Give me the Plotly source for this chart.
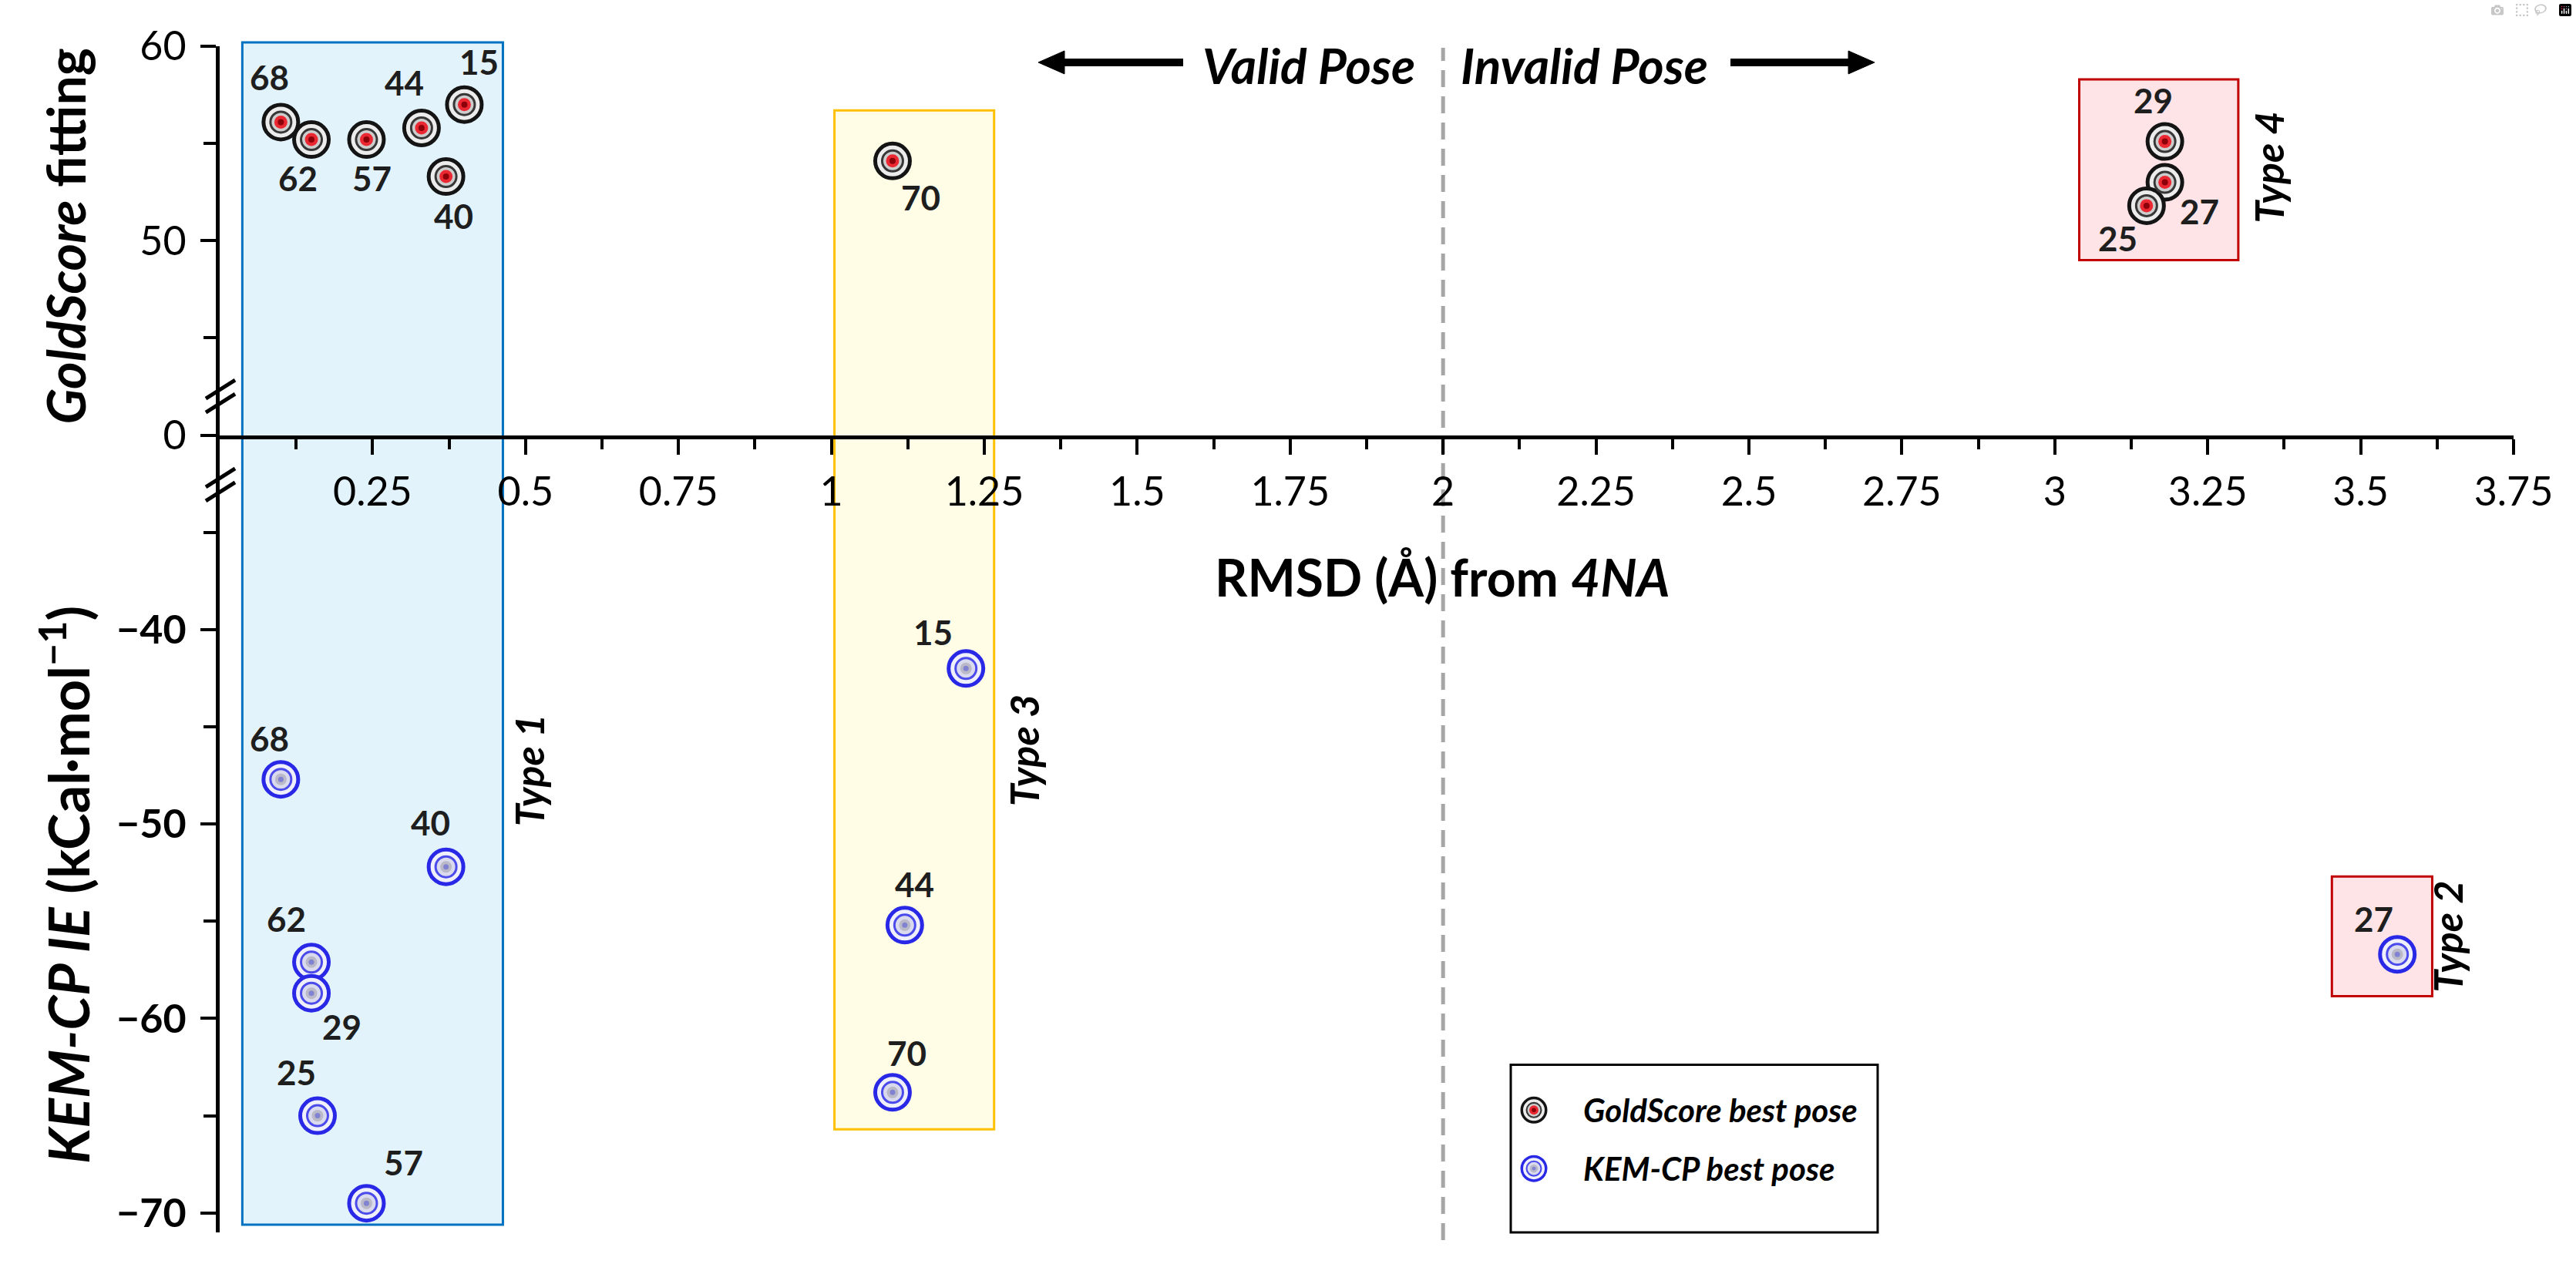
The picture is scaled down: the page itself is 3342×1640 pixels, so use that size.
import plotly.graph_objects as go

# ---------------- data ----------------
gold_ids = ["68", "62", "57", "44", "15", "40", "70", "29", "27", "25"]
gold_rmsd = [0.10, 0.15, 0.24, 0.33, 0.40, 0.37, 1.10, 3.18, 3.18, 3.15]
gold_fit = [56.1, 55.2, 55.2, 55.8, 57.0, 53.3, 54.1, 55.1, 53.0, 51.8]

kem_ids = ["68", "40", "62", "29", "25", "57", "15", "44", "70", "27"]
kem_rmsd = [0.10, 0.37, 0.15, 0.15, 0.16, 0.24, 1.22, 1.12, 1.10, 3.56]
kem_ie = [-47.7, -52.2, -57.1, -58.7, -65.0, -69.5, -42.0, -55.2, -63.8, -56.7]

x_tickvals = [0.25, 0.5, 0.75, 1.0, 1.25, 1.5, 1.75, 2.0, 2.25, 2.5, 2.75, 3.0, 3.25, 3.5, 3.75]
x_ticktext = ["0.25", "0.5", "0.75", "1", "1.25", "1.5", "1.75", "2", "2.25", "2.5",
              "2.75", "3", "3.25", "3.5", "3.75"]
x_minor = [0.125, 0.375, 0.625, 0.875, 1.125, 1.375, 1.625, 1.875, 2.125, 2.375,
           2.625, 2.875, 3.125, 3.375, 3.625]
top_tickvals = [40, 50, 60]
top_ticktext = ["0", "50", "60"]
top_minor = [45, 55]
bot_tickvals = [-70, -60, -50, -40]
bot_ticktext = ["\u221270", "\u221260", "\u221250", "\u221240"]
bot_minor = [-65, -55, -45, -35]

legend_names = ["<i>GoldScore best pose</i>", "<i>KEM-CP best pose</i>"]
type_names = ["Type 1", "Type 2", "Type 3", "Type 4"]

# ---------------- layout geometry ----------------
W, H = 3342, 1640
L, R, T, B = 285, 81, 60, 38
PW, PH = W - L - R, H - T - B
TOP_RANGE = [40, 60]
BOT_RANGE = [-71, -30]
SPLIT = (BOT_RANGE[1] - BOT_RANGE[0]) / ((BOT_RANGE[1] - BOT_RANGE[0]) + (TOP_RANGE[1] - TOP_RANGE[0]))
FONT = "Lato"


def px_x(px):
    return (px - L) / PW


def px_y(py):
    return (H - B - py) / PH


def top_paper(v):
    return SPLIT + (v - TOP_RANGE[0]) / (TOP_RANGE[1] - TOP_RANGE[0]) * (1 - SPLIT)


def bot_paper(v):
    return (v - BOT_RANGE[0]) / (BOT_RANGE[1] - BOT_RANGE[0]) * SPLIT


GOLD_STYLE = [
    dict(size=45, color="rgb(236,236,236)", lw=5, lc="rgb(20,20,20)"),
    dict(size=27, color="rgb(205,205,205)", lw=3, lc="rgb(55,55,55)"),
    dict(size=17, color="rgb(235,40,50)", lw=0, lc="rgba(0,0,0,0)"),
    dict(size=8, color="rgb(140,0,10)", lw=0, lc="rgba(0,0,0,0)"),
]
KEM_STYLE = [
    dict(size=45, color="rgb(240,240,253)", lw=5, lc="rgb(40,40,230)"),
    dict(size=27, color="rgb(218,218,238)", lw=3, lc="rgb(75,75,235)"),
    dict(size=15, color="rgb(185,185,200)", lw=0, lc="rgba(0,0,0,0)"),
    dict(size=7, color="rgb(130,130,210)", lw=0, lc="rgba(0,0,0,0)"),
]

fig = go.Figure()


def add_target(x, y, xa, ya, style, scale=1.0):
    for s in style:
        fig.add_trace(go.Scatter(
            x=x, y=y, xaxis=xa, yaxis=ya, mode="markers", showlegend=False,
            hoverinfo="skip",
            marker=dict(size=s["size"] * scale, color=s["color"],
                        line=dict(width=s["lw"] * scale, color=s["lc"])),
        ))


add_target(gold_rmsd, gold_fit, "x", "y", GOLD_STYLE)
add_target(kem_rmsd, kem_ie, "x", "y2", KEM_STYLE)

# legend markers (drawn on an invisible overlay axis in page pixels)
leg_marker_x = [1990, 1990]
leg_marker_y = [1443, 1519]
add_target([leg_marker_x[0]], [leg_marker_y[0]], "x3", "y3", GOLD_STYLE, scale=0.7)
add_target([leg_marker_x[1]], [leg_marker_y[1]], "x3", "y3", KEM_STYLE, scale=0.7)

annotations = []
shapes = []

# point labels (offsets in pixels)
gold_offsets = [(-15, 58), (-18, -50), (7, -50), (-22, 59), (19, 56), (10, -51),
                (37, -47), (-15, 54), (45, -37), (-37, -42)]
kem_offsets = [(-15, 53), (-20, 58), (-33, 56), (39, -43), (-27, 57), (48, 53),
               (-43, 47), (13, 53), (19, 51), (-31, 46)]
lab_font = dict(family=FONT, size=44, color="rgb(30,30,30)", weight="bold")
for i, lab in enumerate(gold_ids):
    annotations.append(dict(x=gold_rmsd[i], y=gold_fit[i], xref="x", yref="y", text=lab,
                            showarrow=False, xanchor="center", yanchor="middle",
                            xshift=gold_offsets[i][0], yshift=gold_offsets[i][1], font=lab_font))
for i, lab in enumerate(kem_ids):
    annotations.append(dict(x=kem_rmsd[i], y=kem_ie[i], xref="x", yref="y2", text=lab,
                            showarrow=False, xanchor="center", yanchor="middle",
                            xshift=kem_offsets[i][0], yshift=kem_offsets[i][1], font=lab_font))

# region boxes
boxes = [
    dict(x0=0.037, x1=0.463, y0=bot_paper(-70.6), y1=top_paper(60.2),
         fill="rgb(226,243,252)", line="rgb(0,112,192)"),
    dict(x0=1.005, x1=1.266, y0=bot_paper(-65.7), y1=top_paper(56.7),
         fill="rgb(255,253,230)", line="rgb(255,192,0)"),
    dict(x0=3.04, x1=3.30, y0=top_paper(49.0), y1=top_paper(58.3),
         fill="rgb(255,228,231)", line="rgb(192,0,0)"),
    dict(x0=3.453, x1=3.617, y0=bot_paper(-58.85), y1=bot_paper(-52.7),
         fill="rgb(255,228,231)", line="rgb(192,0,0)"),
]
for bx in boxes:
    shapes.append(dict(type="rect", xref="x", yref="paper", x0=bx["x0"], x1=bx["x1"],
                       y0=bx["y0"], y1=bx["y1"], fillcolor=bx["fill"],
                       line=dict(color=bx["line"], width=3), layer="below"))

# dashed separator at RMSD = 2
shapes.append(dict(type="line", xref="x", yref="paper", x0=2, x1=2, y0=px_y(1612), y1=px_y(62),
                   line=dict(color="rgb(166,166,166)", width=5, dash="22px,12px"), layer="below"))

# axis break marks
for yc in (515, 630):
    for dy in (-9, 9):
        shapes.append(dict(type="line", xref="paper", yref="paper",
                           x0=px_x(267), y0=px_y(yc + dy + 12), x1=px_x(305), y1=px_y(yc + dy - 12),
                           line=dict(color="black", width=5)))


# arrows (shaft + triangular head) drawn as shapes
def arrow(x_tail, x_head, y):
    d = 1 if x_head > x_tail else -1
    hl, hh = 34, 15
    base = x_head - d * hl
    shapes.append(dict(type="line", xref="paper", yref="paper", x0=px_x(x_tail), x1=px_x(base),
                       y0=px_y(y), y1=px_y(y), line=dict(color="black", width=10)))
    path = "M {},{} L {},{} L {},{} Z".format(px_x(x_head), px_y(y), px_x(base), px_y(y - hh),
                                              px_x(base), px_y(y + hh))
    shapes.append(dict(type="path", xref="paper", yref="paper", path=path,
                       fillcolor="black", line=dict(color="black", width=1)))


arrow(1535, 1347, 81)
arrow(2245, 2432, 81)

# legend box
shapes.append(dict(type="rect", xref="paper", yref="paper", x0=px_x(1960), x1=px_x(2436),
                   y0=px_y(1602), y1=px_y(1384), line=dict(color="black", width=3),
                   fillcolor="rgba(255,255,255,0)"))
leg_font = dict(family=FONT, size=42, color="black", weight="bold")
for i, nm in enumerate(legend_names):
    annotations.append(dict(x=px_x(2052), y=px_y(leg_marker_y[i]), xref="paper", yref="paper",
                            text=nm, showarrow=False, xanchor="left", yanchor="middle", font=leg_font))

# type labels
type_pos = [(686, 1002), (3175, 1218), (1328, 976), (2943, 218)]
type_font = dict(family=FONT, size=52, color="black", weight="bold")
for nm, (px, py) in zip(type_names, type_pos):
    annotations.append(dict(x=px_x(px), y=px_y(py), xref="paper", yref="paper",
                            xanchor="center", yanchor="middle",
                            text="<i>" + nm + "</i>", textangle=-90, showarrow=False, font=type_font))

# valid / invalid pose
pose_font = dict(family=FONT, size=64, color="black", weight="bold")
annotations.append(dict(x=px_x(1698), y=px_y(85), xref="paper", yref="paper",
                        xanchor="center", yanchor="middle",
                        text="<i>Valid Pose</i>", showarrow=False, font=pose_font))
annotations.append(dict(x=px_x(2055), y=px_y(85), xref="paper", yref="paper",
                        xanchor="center", yanchor="middle",
                        text="<i>Invalid Pose</i>", showarrow=False, font=pose_font))

# axis titles
annotations.append(dict(x=px_x(1871), y=px_y(750), xref="paper", yref="paper",
                        xanchor="center", yanchor="middle",
                        text="RMSD (\u00c5) from <i>4NA</i>", showarrow=False,
                        font=dict(family=FONT, size=66, color="black", weight="bold")))
annotations.append(dict(x=px_x(85), y=px_y(307), xref="paper", yref="paper",
                        xanchor="center", yanchor="middle",
                        text="<i>GoldScore</i> fitting", textangle=-90, showarrow=False,
                        font=dict(family=FONT, size=68, color="black", weight="bold")))
annotations.append(dict(x=px_x(84), y=px_y(1150), xref="paper", yref="paper",
                        xanchor="center", yanchor="middle",
                        text="<i>KEM-CP IE</i> (kCal\u00b7mol<sup>\u22121</sup>)", textangle=-90,
                        showarrow=False,
                        font=dict(family=FONT, size=72, color="black", weight="bold")))

tick_font = dict(family=FONT, size=52, color="black")
common_y = dict(showline=True, linewidth=5, linecolor="black", ticks="outside", ticklen=20,
                tickwidth=4, tickcolor="black", showgrid=False, zeroline=False, anchor="x",
                ticklabelstandoff=8, fixedrange=True)

fig.update_layout(
    width=W, height=H,
    margin=dict(l=L, r=R, t=T, b=B, pad=0),
    paper_bgcolor="white", plot_bgcolor="rgba(0,0,0,0)",
    showlegend=False,
    font=dict(family=FONT, color="black"),
    xaxis=dict(domain=[0, 1], range=[0, 3.75], anchor="y", showline=True, linewidth=5,
               linecolor="black", ticks="outside", ticklen=20, tickwidth=4, tickcolor="black",
               tickmode="array", tickvals=x_tickvals, ticktext=x_ticktext, tickfont=tick_font,
               minor=dict(tickmode="array", tickvals=x_minor, ticks="outside", ticklen=13,
                          tickwidth=4, tickcolor="black"),
               showgrid=False, zeroline=False, ticklabelstandoff=4, fixedrange=True),
    yaxis=dict(domain=[SPLIT, 1], range=TOP_RANGE, tickmode="array", tickvals=top_tickvals,
               ticktext=top_ticktext, tickfont=tick_font,
               minor=dict(tickmode="array", tickvals=top_minor, ticks="outside", ticklen=16,
                          tickwidth=4, tickcolor="black"), **common_y),
    yaxis2=dict(domain=[0, SPLIT], range=BOT_RANGE, tickmode="array", tickvals=bot_tickvals,
                ticktext=bot_ticktext, tickfont=dict(tick_font, weight="bold"),
                minor=dict(tickmode="array", tickvals=bot_minor, ticks="outside", ticklen=16,
                           tickwidth=4, tickcolor="black"), **common_y),
    xaxis3=dict(domain=[0, 1], range=[L, W - R], anchor="y3", visible=False, fixedrange=True),
    yaxis3=dict(domain=[0, 1], range=[H - B, T], anchor="x3", visible=False, fixedrange=True),
    shapes=shapes,
    annotations=annotations,
)

fig.write_html("out.html", post_script="document.body.style.margin='0';")
